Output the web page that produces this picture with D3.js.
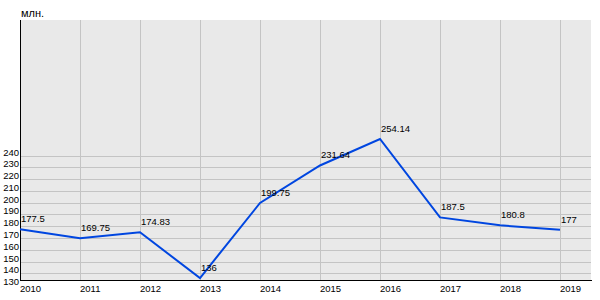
<!DOCTYPE html>
<html>
<head>
<meta charset="utf-8">
<script src="https://cdn.jsdelivr.net/npm/d3@7"></script>
<style>
  body { margin: 0; background: #fff; }
  svg { display: block; font-family: "Liberation Sans", Arial, sans-serif; }
</style>
</head>
<body>
<script>
// chart data
var years = ["2010", "2011", "2012", "2013", "2014", "2015", "2016", "2017", "2018", "2019"];
var values = [177.5, 169.75, 174.83, 136, 199.75, 231.64, 254.14, 187.5, 180.8, 177];
var valueLabels = ["177.5", "169.75", "174.83", "136", "199.75", "231.64", "254.14", "187.5", "180.8", "177"];
var yTicks = [130, 140, 150, 160, 170, 180, 190, 200, 210, 220, 230, 240];
var gridTicks = [140, 150, 160, 170, 180, 190, 200, 210, 220, 230, 240];
var unitLabel = "млн.";

// plot box (note: `top` is reserved on window, so use plot* names)
var svg = d3.select("body").append("svg").attr("width", 600).attr("height", 300),
    plotLeft = 20, plotRight = 591, plotTop = 20, plotBottom = 280;

// scales
var x = d3.scalePoint()
    .domain(years)
    .range([plotLeft, 560]);

var y = d3.scaleLinear()
    .domain([134.3, 355.3])
    .range([plotBottom, plotTop]);

// plot background
svg.append("rect")
    .attr("x", plotLeft)
    .attr("y", plotTop)
    .attr("width", plotRight - plotLeft)
    .attr("height", plotBottom - plotTop)
    .attr("fill", "#e9e9e9");

// horizontal grid lines
svg.append("g")
    .selectAll("line")
    .data(gridTicks)
    .enter()
    .append("line")
    .attr("x1", plotLeft)
    .attr("x2", plotRight)
    .attr("y1", function(d) { return Math.round(y(d)) + 0.5; })
    .attr("y2", function(d) { return Math.round(y(d)) + 0.5; })
    .attr("stroke", "#c4c4c4");

// vertical grid lines
svg.append("g")
    .selectAll("line")
    .data(years.slice(1))
    .enter()
    .append("line")
    .attr("x1", function(d) { return x(d) + 0.5; })
    .attr("x2", function(d) { return x(d) + 0.5; })
    .attr("y1", plotTop)
    .attr("y2", plotBottom)
    .attr("stroke", "#c4c4c4");

// axis lines
svg.append("line")
    .attr("x1", plotLeft + 0.5).attr("x2", plotLeft + 0.5)
    .attr("y1", plotTop).attr("y2", plotBottom + 1)
    .attr("stroke", "#000");

svg.append("line")
    .attr("x1", plotLeft).attr("x2", plotRight + 1)
    .attr("y1", plotBottom + 0.5).attr("y2", plotBottom + 0.5)
    .attr("stroke", "#000");

// y tick labels
svg.append("g")
    .selectAll("text")
    .data(yTicks)
    .enter()
    .append("text")
    .attr("x", 19)
    .attr("y", function(d) { return y(d); })
    .attr("text-anchor", "end")
    .style("font-size", "9.5px")
    .attr("fill", "#000")
    .text(function(d) { return d; });

// x tick labels
svg.append("g")
    .selectAll("text")
    .data(years)
    .enter()
    .append("text")
    .attr("x", function(d) { return x(d); })
    .attr("y", 292)
    .style("font-size", "9.5px")
    .attr("fill", "#000")
    .text(function(d) { return d; });

// unit label
svg.append("text")
    .attr("x", 21)
    .attr("y", 16.5)
    .style("font-size", "11px")
    .text(unitLabel);

// line
var line = d3.line()
    .x(function(d, i) { return x(years[i]); })
    .y(function(d) { return y(d); });

svg.append("path")
    .datum(values)
    .attr("d", line)
    .attr("fill", "none")
    .attr("stroke", "#0046e0")
    .attr("stroke-width", 2);

// value labels
svg.append("g")
    .selectAll("text")
    .data(values)
    .enter()
    .append("text")
    .attr("x", function(d, i) { return x(years[i]) + 1; })
    .attr("y", function(d) { return y(d) - 7; })
    .style("font-size", "9.5px")
    .attr("fill", "#000")
    .text(function(d, i) { return valueLabels[i]; });
</script>
</body>
</html>
